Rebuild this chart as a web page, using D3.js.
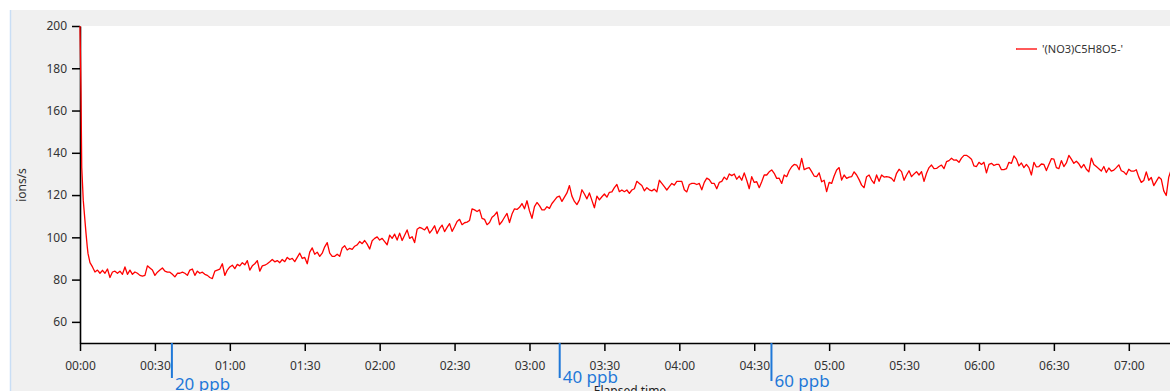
<!DOCTYPE html>
<html><head><meta charset="utf-8">
<script src="https://cdn.jsdelivr.net/npm/d3@7"></script>
<style>html,body{margin:0;padding:0;background:#fff;overflow:hidden}</style>
</head><body><svg id="c" width="1170" height="391"></svg>
<script>
// ---------- data ----------
const startTimes  = [0, 0.4, 0.7, 1.3, 2.4, 2.9, 3.2, 4.0];        // minutes
const startValues = [200, 168, 133, 117.6, 102, 95.6, 92.4, 88];  // ions/s
const ionRateFirstMinute = 5;   // ionRate[i] is at minute 5 + i
const ionRate = [
 86,83.6,84.5,83,84.4,83,85,81,83.6,84,83,84,82.5,86,82.5,84.5,82.5,83.6,83,82,
 81.6,82,86.5,85.5,84.5,82,83.5,84.5,85.5,84,83.5,83.5,82.5,81.3,83,83,83.5,83,82,84.5,
 85,82,84,83,83.5,82.5,82,81,80.5,84,84.5,85,87.5,82,84.5,86,86.8,85.2,87.2,86.5,
 88,87,89,84.5,86.5,87.5,89,84,86.5,86.8,87.5,88.4,89.5,88.4,89,88,89.5,88.5,90.5,89.5,
 90,88.5,90.5,92.5,90,90.5,87.5,93,95,92,93,91,92.5,95.5,97.5,92.5,91,91,92,91,
 95,96,94,94.8,94.3,95.8,96.4,98,97,98.5,96.8,94.5,98.4,99.5,100.2,98.7,99.5,98,96.5,101,
 99.5,101.5,98.7,102,98.5,101,103.5,99.5,100.3,97.5,103.8,104.7,104.2,103.5,105,102,103.5,105.5,101.8,104.2,
 105.8,102.7,104.7,106.5,102.8,105,107.5,108.5,106,106.9,107.2,108,113.5,113,112.2,113,109,108.5,106,107,
 109.5,110.5,112,106,107.5,109.5,111.3,107,111,113.5,113.2,114.2,116,113.5,117.3,112.5,109,114.5,116.5,115,
 113,113,114.5,113.7,116,117.5,119,119.5,117,119,121,124.5,119.5,117,115.5,117.7,122.5,120.5,118.2,121,
 117.5,114,119.5,117.7,119.2,120.5,119,121.3,121.5,123.5,125,121.6,122.4,121.6,122.4,120.8,122.4,123,126.5,125.5,
 124.5,122,123.5,122.5,122,122.8,121.5,127,125.5,124,122.4,124,125.5,124.7,126.5,126.5,126.5,122.5,121.5,125,
 125.5,125.5,125,125.5,122.5,126,128,127.3,125.5,125.5,123,126,126.5,128.5,127.3,130,129.2,130,127.5,129,
 127,130.5,127,123,128.7,126,126.3,123.5,126.3,129.5,129.5,131,131.9,130.3,127.9,128,125.5,129.5,128.7,131.5,
 133.4,134.5,134.2,132,137.4,132,132.6,133,131.1,129,128.7,130.5,126.3,127,121.6,126,125.5,129,131.9,133,
 127.1,129.5,127.9,128.5,128.7,131,129.5,127.3,124.7,123.5,128.7,129.5,127.1,125.5,129.5,126.5,129.5,128.5,128.7,128.5,
 127.9,126.5,130.3,132.2,131.1,127,129.5,131.5,128.7,130,131.1,129.5,131.1,126.5,130.3,133,134.2,132.5,132.6,133.5,
 134.2,132.5,135.8,136.3,137.4,136.5,136.6,135.5,137.5,138.8,138.8,138,137,133.8,133.5,135.5,134.5,135.5,130.5,134.5,
 135,134,134.5,134.5,132,132,132.5,135.5,135,138.5,137,133.8,135.2,133,134.5,133,129.5,135.5,133.3,133.5,
 134.7,134.5,131.6,134.5,137.2,137,133,132.5,136.3,133.5,135.2,138.8,137,135,136,134.8,132.9,134.5,132.2,131,
 137.5,134.5,133.5,132.5,131.4,133.5,130.7,132.8,131.3,131.8,133,134.3,131.5,131,129.7,132.2,131.3,131.3,132,128.5,
 126,126.9,131,127,128.3,124.5,126.5,128.5,127.5,122,119.8,128.5,132
];
const seriesName = "'(NO3)C5H8O5-'";
const yTicks = [60, 80, 100, 120, 140, 160, 180, 200];
const xTicks = [0, 30, 60, 90, 120, 150, 180, 210, 240, 270, 300, 330, 360, 390, 420]; // minutes
const markerTimes  = [36.8, 192.1, 276.9];
const markerLabels = ["20 ppb", "40 ppb", "60 ppb"];

// ---------- layout ----------
const W = 1170, H = 391;
const pLeft = 80, pRight = 1170, pTop = 26, pBottom = 343;
const font = "'Segoe UI','Noto Sans','Open Sans',sans-serif";

const pts = startTimes.map((t, i) => ({t, v: startValues[i]}))
  .concat(ionRate.map((v, i) => ({t: ionRateFirstMinute + i, v})));

const x = d3.scaleLinear().domain([0, 436.5]).range([pLeft, pRight]);
const y = d3.scaleLinear().domain([50, 200]).range([pBottom, pTop]);

const svg = d3.select("#c");
svg.append("rect").attr("width", W).attr("height", H).attr("fill", "#ffffff");
svg.append("rect").attr("x", 10).attr("y", 10).attr("width", W - 10).attr("height", H - 10).attr("fill", "#f0f0f0");
svg.append("line").attr("x1", 10.5).attr("x2", 10.5).attr("y1", 10).attr("y2", H)
  .attr("stroke", "#c9def5").attr("stroke-width", 1.5);
svg.append("rect").attr("x", pLeft).attr("y", pTop).attr("width", pRight - pLeft).attr("height", pBottom - pTop).attr("fill", "#ffffff");

svg.append("clipPath").attr("id", "clip").append("rect")
  .attr("x", pLeft - 1).attr("y", pTop).attr("width", pRight - pLeft + 1).attr("height", pBottom - pTop);

const pad = n => String(n).padStart(2, "0");
const xAxis = svg.append("g").attr("transform", `translate(0,${pBottom})`)
  .call(d3.axisBottom(x).tickValues(xTicks).tickSizeInner(8).tickSizeOuter(0).tickPadding(10)
    .tickFormat(m => pad(Math.floor(m / 60)) + ":" + pad(m % 60)));
const yAxis = svg.append("g").attr("transform", `translate(${pLeft},0)`)
  .call(d3.axisLeft(y).tickValues(yTicks).tickSizeInner(8).tickSizeOuter(0).tickPadding(5));

[xAxis, yAxis].forEach(g => {
  g.select(".domain").attr("stroke", "#000").attr("stroke-width", 1.6);
  g.selectAll(".tick line").attr("stroke", "#000").attr("stroke-width", 1.5);
  g.selectAll(".tick text").attr("fill", "#333").style("font-family", font).style("font-size", "12px");
});

// series line drawn over the axes, as in the reference
svg.append("path").datum(pts)
  .attr("clip-path", "url(#clip)")
  .attr("fill", "none").attr("stroke", "#ff0000").attr("stroke-width", 1.3)
  .attr("stroke-linejoin", "round")
  .attr("d", d3.line().x(d => x(d.t)).y(d => y(d.v)));

svg.append("text").attr("transform", `translate(26,185) rotate(-90)`)
  .attr("text-anchor", "middle").attr("fill", "#333")
  .style("font-family", font).style("font-size", "12px").text("ions/s");

svg.append("text").attr("x", 630).attr("y", 395).attr("text-anchor", "middle").attr("fill", "#222")
  .style("font-family", font).style("font-size", "12px").text("Elapsed time");

// concentration step markers
const markerLineEnd = [378, 378, 381];
const markerLabelY = [390, 383, 387];
const mk = svg.append("g");
markerTimes.forEach((t, i) => {
  mk.append("line").attr("x1", x(t)).attr("x2", x(t)).attr("y1", pBottom).attr("y2", markerLineEnd[i])
    .attr("stroke", "#1f78d8").attr("stroke-width", 2);
  mk.append("text").attr("x", x(t) + 3).attr("y", markerLabelY[i]).attr("fill", "#1f78d8")
    .style("font-family", font).style("font-size", "17px").text(markerLabels[i]);
});

// legend
const lg = svg.append("g").attr("transform", "translate(1016,49)");
lg.append("line").attr("x1", 0).attr("x2", 21).attr("y1", 0).attr("y2", 0).attr("stroke", "#ff0000").attr("stroke-width", 1.3);
lg.append("text").attr("x", 26).attr("y", 0).attr("dy", "0.35em").attr("fill", "#333")
  .style("font-family", font).style("font-size", "11px").text(seriesName);
</script></body></html>
